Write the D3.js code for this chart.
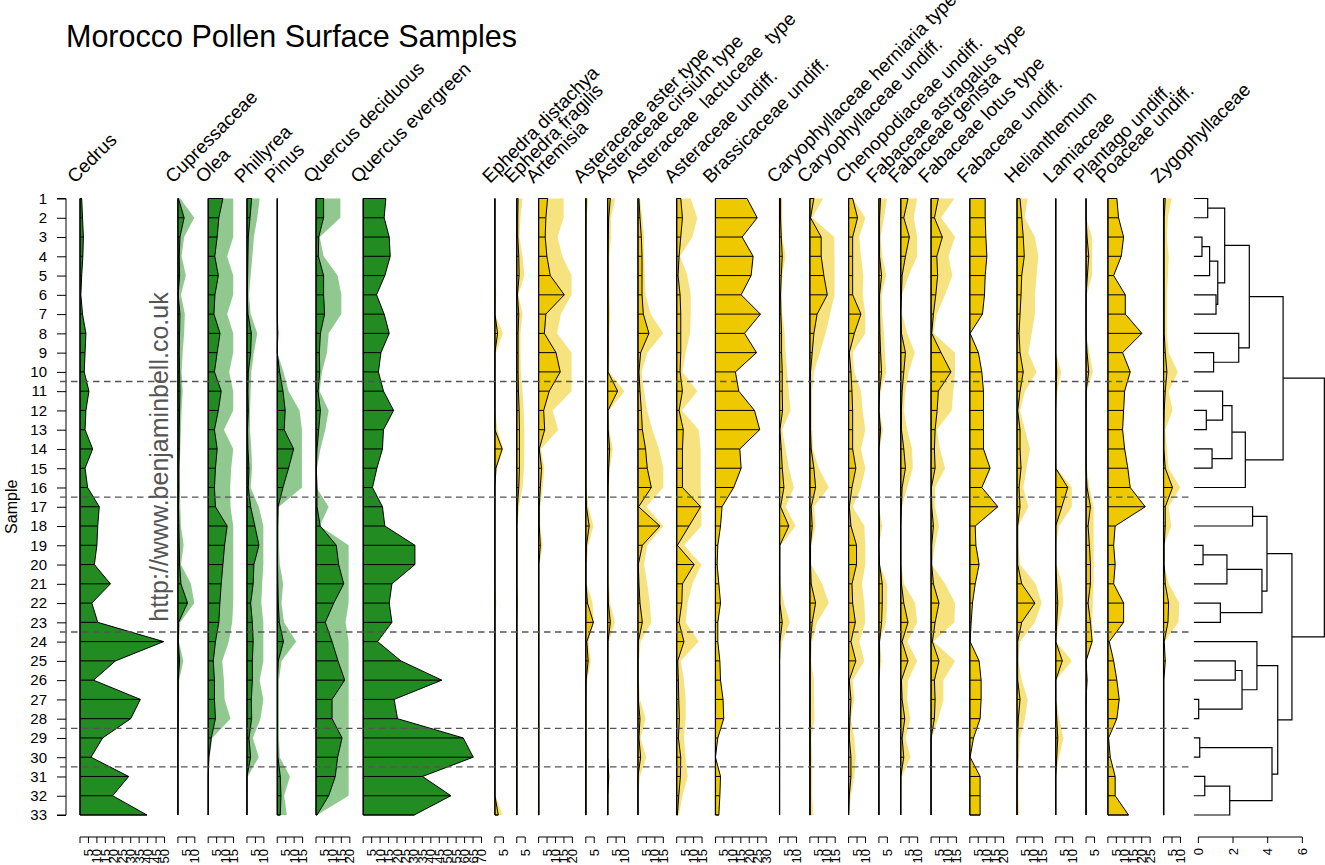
<!DOCTYPE html>
<html>
<head>
<meta charset="utf-8">
<style>
  body { margin: 0; background: #fff; }
  svg text { font-family: "Liberation Sans", Arial, sans-serif; fill: #000; }
</style>
</head>
<body>
<div id="chart"></div>
<script src="https://d3js.org/d3.v7.min.js"></script>
<script>
// pollen percentages, samples 1..33 (top to bottom)
const samples = d3.range(1, 34);

const cedrus = [1,1.5,2,1.7,1,0.5,1.5,3.5,3,2.5,5.3,3.5,3,7.5,3,4.5,11.4,10.5,10,8.5,18,7,10.5,49.5,21,8,35.7,30,13.4,6.5,28.8,19.3,39.6];
const cupressaceae = [0.3,3.7,1.2,0.8,1,0.2,1.2,1,0.8,1,1.2,1,0.8,0.8,0.6,0.6,0.4,0.6,0.8,1,1.8,5.7,0.4,0.2,1,0.2,0.2,0.2,0,0,0,0,0];
const olea = [8.7,6.3,5.3,3.9,6,4,3.4,7,5.3,3.7,7.7,6,3.7,5.3,4.3,3.7,4.3,11.2,9.7,8.7,7.7,6.9,6.3,4.3,3,3.7,3.7,4.3,1.8,0.4,0,0,0];
const phillyrea = [2.8,1.8,0.8,0.6,0.4,0.2,0.6,2.6,2.2,0.8,0.6,0.8,0.4,0.6,1.2,0.8,2.2,4.7,7.1,4.1,3.7,2.2,3.2,3.7,3.2,3.2,2.6,2.8,1.2,2.2,0,0,0];
const pinus = [0,0,0,0,0,0,0,0.2,0,1.4,3.4,4.7,4.1,9.7,6.7,3.4,0.5,0.2,0.2,0.2,0.4,0.6,1.2,3.7,0.6,0.2,0.2,0.2,0.2,0.4,1.8,2.2,1.8];
const quercusDec = [4.5,4.5,1.6,1.4,4.5,4.5,5.1,2.6,2,2.2,1.2,2.6,1.6,0.6,0.2,0.6,0.6,2.5,12,13.4,16.4,10.5,5.5,9.5,13,17,9.5,9.5,15.4,12.8,11.4,7.5,0.6];
const quercusEver = [13.4,12.4,15.4,16,12.8,7.9,12.4,15.4,10.5,9,12,18,12,11.4,8.1,5.5,11.4,12.8,30.6,30.6,17,15.4,17,8.5,22.3,46.5,18.3,20.3,59.2,65.1,35.1,51.9,30.2];
const ephedraDist = [0,0,0,0,0,0,0,1.6,0,0,0,0,0,4.3,0.6,0,0,0,0,0,0,0,0,0,0,0,0,0,0,0,0,0,2];
const ephedraFrag = [0.8,0.6,0.6,1.2,1.4,0.4,1.2,0.8,0.8,0.8,1,1.4,1.6,1.6,1.6,1.2,0.4,0.1,0.1,0.1,0.1,0.2,0.1,0.1,0.1,0.1,0.1,0.1,0.1,0.1,0.1,0.1,0.1];
const artemisia = [5.3,4.3,3.9,4.9,6.9,15.2,4.3,3.4,10.3,12.8,6.3,3,3.6,0.4,1.8,1,0.4,0.4,1,0.2,0.2,0.2,0.2,0.2,0.2,0.2,0.2,0.2,0.2,0.2,0.2,0.2,0.2];
const asterAster = [0.2,0.1,0.1,0.1,0.1,0.1,0.1,0.1,0.1,0.1,0.1,0.1,0.1,0.1,0.1,0.1,0.4,2,0.4,0.1,0.1,1,4.5,0.6,1.4,0.2,0.1,0.1,0.1,0.1,0.1,0.1,0.1];
const asterCirsium = [1.6,0.6,0.4,0.3,0.3,0.3,0.3,0.3,0.3,0.2,5.9,0.2,0.3,1.2,0.6,0.3,0.2,0.2,0.2,0.2,0.2,0.4,1.6,0.2,0.2,0.2,0.2,0.2,0.2,0.2,0.6,0.2,0.2];
const asterLactuceae = [0.6,1.2,2,2.4,2.4,2.4,3.2,6.5,1.6,0.6,1.2,2,2.6,4.5,5.5,7.9,0.4,13,2.6,0.2,0.6,1.2,2.6,0.2,0,0,0.2,1.2,0.6,1.6,0,0,0];
const asterUndiff = [2.4,3.4,2.4,1.4,0.8,2,2.4,2.4,2.4,2,3.4,1.4,3.9,3.4,3.4,3.4,14.2,7.3,0.4,10.3,3.4,3,1.4,4.3,0.6,1,1.2,1.6,1,2.4,2.2,1.2,0.4];
const brassicaceae = [18.7,24.7,15.8,22.3,21.1,15.2,26.6,17.2,24.3,11.8,13.8,23.1,26.2,14.4,15.2,10.8,3.9,3,1.4,1,2,3,1.4,1.4,2.6,3,4.5,4.9,1.4,0,3,2.6,2];
const caryHerniaria = [0.6,0.6,1,1.6,1,0.6,0.8,1.2,1.2,1.6,1.6,1.8,0.2,1,1.6,2.6,0.6,5.5,0.2,0.2,0.2,0.2,1.6,0.2,0,0,0,0,0,0,0,0,0];
const caryUndiff = [2.4,0.4,6.7,6.7,8.3,10.3,4.3,2.4,1.4,0.4,0.4,0.4,0.4,0.8,2.4,3.4,0.8,1.4,0.4,0.4,0.8,3.4,1.4,0.4,0.2,0.2,0.2,0.2,0.2,0.2,0.2,0.2,0.2];
const chenopodiaceae = [2.4,5.3,2.4,2.4,2.4,2.4,7.3,3.4,0.4,1.4,2,2.4,2.4,2.4,4.3,2,0.4,1.4,4.7,4.7,2,2.4,4,1.4,4.3,0.4,1.4,0.8,0.4,1.4,1.4,0.4,0];
const fabAstragalus = [1,0.4,0.4,0.4,1.6,0.4,0.4,0.6,1,1.6,0.4,0,1,0,0,0,0,0.4,0,0.4,2,2,1.6,0.4,0.4,0,0,0,0,0,0,0,0];
const fabGenista = [4.3,1.8,5.1,2.8,0.8,0.4,0,0.4,2.8,1.8,0.8,0.4,0.4,1.8,2.8,0.8,0.4,0,0,0,0.4,1.8,4.3,0.8,4.3,0.4,0.8,2.4,0.8,1.8,0,0,0];
const fabLotus = [4.3,2,6.7,3.4,3.9,2.8,1.4,0.4,5.9,11.8,4.3,3.6,2.4,2,2.4,0.2,0.4,1.4,0.4,0.4,1.4,4.7,2.4,0.8,4.7,2,2.4,2,0,0,0,0,0];
const fabUndiff = [9.1,9.1,9.5,10.1,9.1,8.7,7.5,0.2,5.1,7.1,8.1,8.1,8.1,8.1,12,7.1,16.6,3.2,3.6,5.5,3.2,1.6,0.8,0.2,5.5,6.7,6.7,6.1,2.2,0.2,6.1,6.1,6.1];
const helianthemum = [1.8,2.8,3.7,4.3,2.8,2.4,1.8,1.2,1.8,3.7,1.8,0.4,1.8,1.8,2.4,1.2,1.8,0.4,0.4,0.4,2.8,10.6,2.8,0.4,0.4,0.4,1.8,0.8,0.4,0.4,0,0,0];
const lamiaceae = [0,0,0,0,0,0,0,0,0,0.6,0.2,0,0,0,0,7.1,3.6,0,0,0,0.6,1.2,0.6,0,3.9,0,0,0.6,1.2,0.6,0,0,0];
const plantago = [0,0,0.6,1.6,0.8,0,0,0,0.6,1.6,0,0,0,0,0,0.6,2.6,1.2,2,2.6,2.6,1.2,2.6,3.6,0,0.6,0,0,0,0,0,0,0];
const poaceae = [5.3,6.3,9.3,7.9,3.4,10.3,10.3,20.1,8.7,13.2,9.9,9.3,8.7,9.9,11.8,13.2,22.1,4.3,3.4,4.3,3.4,9.3,9.3,0.8,3.4,5.3,6.7,5.3,0.4,1.4,4.3,4.3,12.2];
const zygophyllaceae = [1,0.4,0.4,0.4,0.4,0.4,0.4,0.4,1,2,1,0.4,0.2,0.2,1,5.3,1,1,0.4,0.4,1,3,2.6,0.4,1,0.2,0.2,0.2,0.2,0.2,0.2,0.2,0.2];

// lighter background curves (clipped to column width)
const cupressaceaeX = [1.4,9.7,3.7,2.2,4.7,1.8,4.1,3.7,2.8,2.2,2.8,2.2,1.8,1.4,1,1.2,1.4,1.8,3.4,1.8,7.7,9.7,1.4,0.6,3.2,0.8,0.6,0.4,0.3,0.2,0.1,0,0];
const oleaX = [14.8,14.8,14.8,11.2,14.8,14.8,11.2,14.8,14.8,12.4,14.8,14.8,9.3,14.8,13.6,13,13.2,14.8,14.8,14.8,14.8,14.8,14.2,12.2,8.3,9.3,9.7,13.2,2.4,0.8,0.2,0.2,0.2];
const phillyreaX = [7.5,6.1,4.1,3.2,2.2,1.2,2.2,6.1,4.1,2.6,2.2,1.8,1.8,2.6,3,2.2,7,9.7,9.7,9.7,9,8.5,9.7,9.7,9.7,7.5,9.7,8,3.5,7,0.5,0,0];
const pinusX = [0,0,0,0,0,0,0,1,0,3.7,6.7,13.2,14.6,14.6,14.6,14.6,1,1,1,1.5,3.5,2.5,4,11.2,2.5,1,1,1,1,1.5,7.5,4.1,5.7];
const quercusDecX = [14.4,14.4,2.2,4.5,12.8,15,15,7.5,6.5,3.5,2.2,7.5,5.5,2.6,0.6,0.2,7.5,2.2,19.3,19.3,19.3,19.3,17.5,19.3,19.3,19.3,19.3,19.3,19.3,19.3,19.3,19.3,0.6];
const ephedraDistX = [0,0,0,0,0,0.8,0,4.7,0.5,0,0,0,1.6,5,1.2,0,0,0,0,0,0,0.8,0,0,0,0,0,0,0,0,0,0.4,4.5];
const ephedraFragX = [3.4,2.2,1.6,3.4,4.5,1,3.4,2.2,2.2,2.4,3.4,4.1,4.5,4.5,4.3,3.4,1.4,0.5,0.5,0.5,0.5,0.8,0.5,0.5,0.5,0.5,0.5,0.5,0.5,0.5,0.5,0.5,0.5];
const artemisiaX = [14.8,14.8,11.2,14,19.5,19.5,13.2,10.9,19.5,19.5,19.5,8.3,11.6,1.4,3.4,2.4,1,1,2.4,0.6,0.6,0.6,0.6,0.6,0.6,0.6,0.6,0.6,0.6,0.6,0.6,0.6,0.6];
const asterAsterX = [1.4,0.6,0.5,0.5,0.5,0.5,0.5,0.5,0.5,0.5,0.5,0.5,0.5,0.5,0.5,0.5,1.5,4.5,1.5,0.5,0.5,4,4.8,1.5,3,0.8,0.4,0.4,0.4,0.4,0.4,0.4,0.4];
const asterCirsiumX = [4.5,2,2,1,1,1,1.6,1,1,1,9.9,0.8,1,3,1.2,0.8,0.5,0.5,0.5,0.5,0.8,1.5,4.3,0.8,0.5,0.5,0.5,0.5,0.5,0.5,1.2,0.4,0.4];
const asterLactuceaeX = [1.2,2.6,3.6,3.6,4.1,4.5,7.5,15,5.5,2.2,3.6,5.5,8.5,12.4,15,15,5,15,5.5,3.6,5.5,7,7.9,1.6,0.6,0.6,1.2,4.5,1.6,4.9,1.2,0,0];
const asterUndiffX = [8.3,12.2,9.3,2,6.3,8.3,8.3,7.9,5.3,3.4,12.2,3,13,14.2,14.2,14.2,14.6,14.6,4.3,14.6,9.3,6.5,5.3,13,2.4,4.3,5.3,5.3,4.3,5.3,6.5,3.4,1.4];
const caryHerniariaX = [1.6,1.6,1.6,3.6,1.6,1.2,1.6,3,3.6,4.5,5.5,6.5,1.6,3.6,5.5,8.5,3.6,9.5,0.6,0.2,0.6,2.6,6.1,1.6,0.2,0.2,0.2,0.2,0.2,0.2,0.2,0.2,0.2];
const caryUndiffX = [7.9,1.4,14.4,14.6,14.6,14.6,12,9.3,5.9,2.4,1.4,1.4,1.4,1.8,5.3,11.2,2.4,3.4,0.8,0.8,7.3,11.2,4.3,1.4,0.8,2.4,2.4,2.8,0.8,1.4,1.4,1.4,2];
const chenopodiaceaeX = [2.4,9.9,6.3,7.3,8.7,8.3,9.9,9.9,2.4,3.4,7.3,8.3,9.9,7.3,9.9,7.3,2.4,9.3,9.9,9.9,7.9,9.3,9.9,6.3,9.3,2.4,3.4,1.4,3.4,4.3,3.4,1.4,0.4];
const fabAstragalusX = [4.9,3,1,2,4.3,1.6,2,3,3.6,4.3,1,0.4,2.4,0.4,0,0,0,2,0,0.4,4.9,4.9,4.3,0.4,1.6,0,0,0,0,0,0,0,0];
const fabGenistaX = [9.7,7.7,9.7,9.7,4.7,0.8,0.8,3.8,8.3,4.7,2.8,1.8,3.8,6.7,7.1,3.8,0.8,0.4,0.4,0.4,1.8,8.5,9.7,3.8,9.7,4.3,3.8,5.7,2.8,5.7,0.8,0,0];
const fabLotusX = [13.8,5.9,14.2,10.3,12.6,8.3,3.4,1.4,14.2,14.2,13.2,12.2,3.4,5.3,8.3,2.4,2.4,4.7,2.4,0.4,8.3,14.2,13.8,1.4,14.2,7.3,7.3,4.3,0.4,0,0,0,0];
const helianthemumX = [6.3,4.5,10.6,12.6,11.6,10.6,10.6,8.7,6.7,11.6,4.7,1.8,4.7,7.7,5.7,3.7,6.7,0.8,0.8,1.8,11,14.6,10.6,1.8,0.8,2.8,6.3,4.7,1.8,1.2,0.8,0.8,1.2];
const lamiaceaeX = [0,0,0,0,0,0,0,0,0,3.2,1,0,0,0,0.4,9.5,9.5,2,0,0.4,3.6,4.5,2,0.2,9.5,0,0.4,2,4.5,2,0,0,0];
const plantagoX = [0,0,3.5,3.6,3.5,0.5,0,0,2,4,0.5,0,0,0,0.5,2,4.5,4.5,4.5,4.5,4.5,4,3.6,4,0.5,1,0,0,0,0,0,0,0];
const zygophyllaceaeX = [4.9,2.6,2,3,2.6,2,2,2,3,8.5,3,5.3,1,2,3,9.9,3,4.5,0.4,0.4,3,9.3,8.9,0.4,1.4,0.2,0.2,0.2,0.2,0.2,0.2,0.2,0.2];

const taxonNames = ["Cedrus", "Cupressaceae", "Olea", "Phillyrea", "Pinus", "Quercus deciduous", "Quercus evergreen",
  "Ephedra distachya", "Ephedra fragilis", "Artemisia", "Asteraceae aster type", "Asteraceae cirsium type",
  "Asteraceae  lactuceae  type", "Asteraceae undiff.", "Brassicaceae undiff.", "Caryophyllaceae herniaria type",
  "Caryophyllaceae undiff.", "Chenopodiaceae undiff.", "Fabaceae astragalus type", "Fabaceae genista",
  "Fabaceae lotus type", "Fabaceae undiff.", "Helianthemum", "Lamiaceae", "Plantago undiff.", "Poaceae undiff.",
  "Zygophyllaceae"];
const taxonValues = [cedrus, cupressaceae, olea, phillyrea, pinus, quercusDec, quercusEver, ephedraDist, ephedraFrag,
  artemisia, asterAster, asterCirsium, asterLactuceae, asterUndiff, brassicaceae, caryHerniaria, caryUndiff,
  chenopodiaceae, fabAstragalus, fabGenista, fabLotus, fabUndiff, helianthemum, lamiaceae, plantago, poaceae,
  zygophyllaceae];
const taxonShade = [null, cupressaceaeX, oleaX, phillyreaX, pinusX, quercusDecX, null, ephedraDistX, ephedraFragX,
  artemisiaX, asterAsterX, asterCirsiumX, asterLactuceaeX, asterUndiffX, null, caryHerniariaX, caryUndiffX,
  chenopodiaceaeX, fabAstragalusX, fabGenistaX, fabLotusX, null, helianthemumX, lamiaceaeX, plantagoX, null,
  zygophyllaceaeX];
const axisMax = [50, 10, 15, 10, 15, 20, 70, 5, 5, 20, 5, 10, 15, 15, 30, 10, 15, 10, 5, 10, 15, 20, 15, 10, 5, 25, 10];
const nTrees = 7;

// zone boundaries (between samples)
const zones = [10.5, 16.5, 23.5, 28.5, 30.5];

// cluster tree: [left, right, height]
const dendro = [
  [
    [
      [[1, 2, 0.54], [[[3, 4, 0.21], 5, 0.65], [6, 7, 1.02], 1.12], 1.52],
      [8, [9, 10, 0.88], 2.33],
      2.94
    ],
    [[[11, [12, 13, 0.46], 1.40], [14, 15, 0.79], 1.94], 16, 2.71],
    4.89
  ],
  [
    [[17, 18, 3.13], [[[19, 20, 0.27], 21, 1.65], [22, 23, 1.27], 3.67], 3.96],
    [
      [24, [[25, 26, 2.13], [27, 28, 0.02], 2.52], 3.38],
      [[29, 30, 0.08], [[31, 32, 0.37], 33, 1.81], 4.25],
      4.58
    ],
    5.40
  ],
  7.27
];
const dendroTicks = [0, 2, 4, 6];

const width = 1325, height = 865;
const yAxisX = 66, pxPerPct = 1.69, colGap = 13.4, axisY = 837;

const svg = d3.select('#chart').append('svg')
  .attr('width', width)
  .attr('height', height);

const y = d3.scaleLinear().domain([1, 33]).range([198.5, 815]);

// column layout
let cursor = yAxisX + 14;
const columns = taxonNames.map((name, i) => {
  const w = axisMax[i] * pxPerPct;
  const x = d3.scaleLinear().domain([0, axisMax[i]]).range([cursor, cursor + w]);
  cursor += w + colGap;
  const tree = i < nTrees;
  return {
    name, x, max: axisMax[i],
    values: taxonValues[i],
    shade: taxonShade[i],
    fill: tree ? '#228B22' : '#EEC900',
    light: tree ? '#90C890' : '#F6E27E'
  };
});
const dendroStart = cursor;

function areaPoints(col, vals) {
  const pts = [[col.x(0), y(samples[0])]];
  vals.forEach((v, j) => pts.push([col.x(Math.min(v, col.max)), y(samples[j])]));
  pts.push([col.x(0), y(samples[samples.length - 1])]);
  return pts;
}

const line = d3.line();
const plot = svg.append('g');

columns.forEach(col => {
  const g = plot.append('g');
  if (col.shade) {
    g.append('path')
      .attr('d', line(areaPoints(col, col.shade)) + 'Z')
      .attr('fill', col.light);
  }
  g.append('path')
    .attr('d', line(areaPoints(col, col.values)) + 'Z')
    .attr('fill', col.fill)
    .attr('stroke', '#000')
    .attr('stroke-width', 1);
  g.selectAll('line.bar')
    .data(col.values)
    .join('line')
    .attr('x1', col.x(0))
    .attr('x2', d => col.x(d))
    .attr('y1', (d, j) => y(samples[j]))
    .attr('y2', (d, j) => y(samples[j]))
    .attr('stroke', '#000')
    .attr('stroke-width', 1);
  g.append('line')
    .attr('x1', col.x(0)).attr('x2', col.x(0))
    .attr('y1', y(1)).attr('y2', y(33))
    .attr('stroke', '#000')
    .attr('stroke-width', 1.2);

  // bottom axis
  const ax = svg.append('g').attr('transform', `translate(0,${axisY})`);
  const ticks = d3.range(0, col.max + 0.01, 5);
  ax.append('line')
    .attr('x1', col.x(0)).attr('x2', col.x(col.max))
    .attr('stroke', '#000');
  ax.selectAll('line.tk').data(ticks).join('line')
    .attr('x1', d => col.x(d)).attr('x2', d => col.x(d))
    .attr('y1', 0).attr('y2', 6)
    .attr('stroke', '#000');
  ax.selectAll('text').data(ticks.filter(d => d > 0)).join('text')
    .attr('transform', d => `translate(${col.x(d) + 4.5},12) rotate(-90)`)
    .attr('text-anchor', 'end')
    .attr('font-size', 13)
    .text(d => d);

  // column label
  svg.append('text')
    .attr('transform', `translate(${col.x(0) - 5},184) rotate(-45)`)
    .attr('font-size', 18.8)
    .style('white-space', 'pre')
    .text(col.name);
});

// left axis
const yAxis = svg.append('g').attr('transform', `translate(${yAxisX},0)`)
  .call(d3.axisLeft(y).tickValues(samples).tickFormat(d3.format('d')).tickSize(9).tickPadding(10));
yAxis.select('.domain').attr('stroke', '#000').attr('d', `M-9,${y(1)}H0V${y(33)}H-9`);
yAxis.selectAll('text').attr('font-size', 15).attr('font-family', '"Liberation Sans", Arial, sans-serif');

svg.append('text')
  .attr('transform', `translate(17,${(y(1) + y(33)) / 2}) rotate(-90)`)
  .attr('text-anchor', 'middle')
  .attr('font-size', 16)
  .text('Sample');

// zone lines
svg.selectAll('line.zone').data(zones).join('line')
  .attr('x1', 60).attr('x2', dendroStart - 1)
  .attr('y1', d => y(d)).attr('y2', d => y(d))
  .attr('stroke', '#555')
  .attr('stroke-width', 1.3)
  .attr('stroke-dasharray', '6.5,4.5');

// dendrogram
const dx = d3.scaleLinear().domain([0, 6]).range([dendroStart + 4.5, dendroStart + 4.5 + 6 * 17.33]);
const dg = svg.append('g').attr('stroke', '#000').attr('stroke-width', 1.2).attr('fill', 'none');
function drawNode(node) {
  if (typeof node === 'number') return { y: y(node), x: dendroStart };
  const a = drawNode(node[0]), b = drawNode(node[1]);
  const xh = dx(node[2]);
  dg.append('path').attr('d', `M${a.x},${a.y}H${xh}V${b.y}H${b.x}`);
  return { y: (a.y + b.y) / 2, x: xh };
}
drawNode(dendro);

const dax = svg.append('g').attr('transform', `translate(0,${axisY})`);
dax.append('line').attr('x1', dx(0)).attr('x2', dx(6)).attr('stroke', '#000');
dax.selectAll('line.tk').data(dendroTicks).join('line')
  .attr('x1', d => dx(d)).attr('x2', d => dx(d))
  .attr('y1', 0).attr('y2', 6).attr('stroke', '#000');
dax.selectAll('text').data(dendroTicks).join('text')
  .attr('transform', d => `translate(${dx(d) + 4.5},11) rotate(-90)`)
  .attr('text-anchor', 'end')
  .attr('font-size', 13)
  .text(d => d);

// title
svg.append('text')
  .attr('x', 66).attr('y', 47)
  .attr('font-size', 30.5)
  .text('Morocco Pollen Surface Samples');

// watermark
svg.append('text')
  .attr('transform', `translate(168,457) rotate(-90)`)
  .attr('text-anchor', 'middle')
  .attr('font-size', 25)
  .style('fill', '#555')
  .text('http://www.benjaminbell.co.uk');
</script>
</body>
</html>
